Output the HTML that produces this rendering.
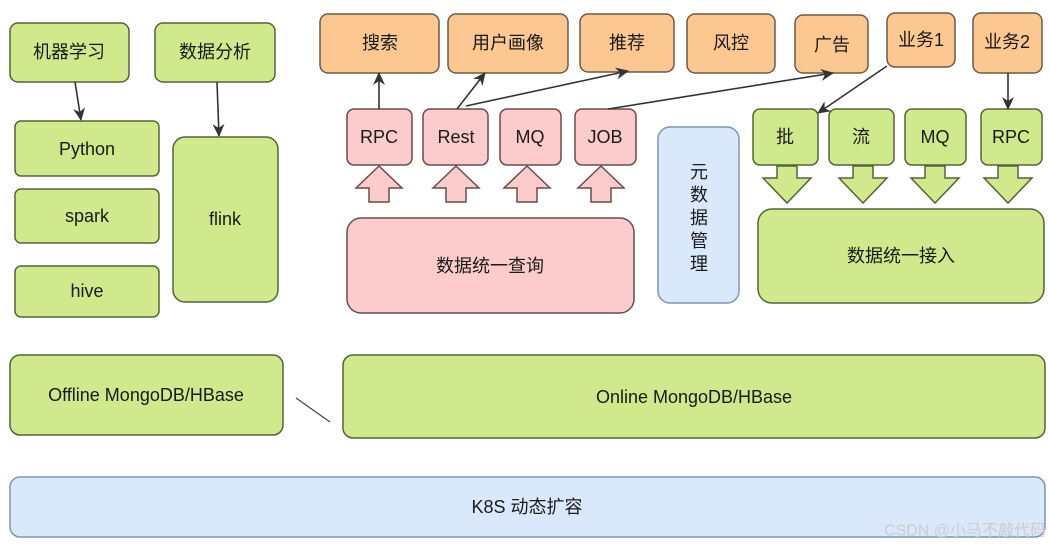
<!DOCTYPE html>
<html><head><meta charset="utf-8"><style>
html,body{margin:0;padding:0;background:#fff;}
svg{display:block;}
text{font-family:"Liberation Sans","Noto Sans CJK SC",sans-serif;fill:#1a1a1a;text-anchor:middle;dominant-baseline:central;}
.g{fill:#d0e98c;stroke:#55623a;stroke-width:1.5;}
.o{fill:#fcc791;stroke:#6b5a48;stroke-width:1.5;}
.p{fill:#fccccc;stroke:#6b4c4c;stroke-width:1.5;}
.b{fill:#dae8fc;stroke:#7c95b8;stroke-width:1.5;}
.l{stroke:#333;stroke-width:1.6;fill:none;}
</style></head><body>
<svg width="1050" height="549" viewBox="0 0 1050 549" xmlns="http://www.w3.org/2000/svg">
<defs><marker id="a" markerWidth="14" markerHeight="14" refX="12" refY="6" orient="auto" markerUnits="userSpaceOnUse"><path d="M0,0 L13,6 L0,12 L4,6 z" fill="#333"/></marker></defs>
<rect class="g" x="10" y="23" width="119" height="59" rx="8"/><text x="69" y="52" font-size="18">机器学习</text>
<rect class="g" x="155" y="23" width="120" height="59" rx="8"/><text x="215" y="52" font-size="18">数据分析</text>
<rect class="g" x="15" y="121" width="144" height="55" rx="6"/><text x="87" y="149" font-size="18">Python</text>
<rect class="g" x="15" y="189" width="144" height="54" rx="6"/><text x="87" y="216" font-size="18">spark</text>
<rect class="g" x="15" y="266" width="144" height="51" rx="6"/><text x="87" y="291" font-size="18">hive</text>
<rect class="g" x="173" y="137" width="105" height="165" rx="12"/><text x="225" y="219" font-size="18">flink</text>
<line class="l" x1="75" y1="82" x2="81" y2="120" marker-end="url(#a)"/>
<line class="l" x1="217" y1="82" x2="219" y2="136" marker-end="url(#a)"/>
<rect class="o" x="320" y="14" width="119" height="59" rx="8"/><text x="380" y="43" font-size="18">搜索</text>
<rect class="o" x="448" y="14" width="120" height="59" rx="8"/><text x="508" y="43" font-size="18">用户画像</text>
<rect class="o" x="580" y="14" width="94" height="58" rx="8"/><text x="627" y="43" font-size="18">推荐</text>
<rect class="o" x="687" y="14" width="88" height="59" rx="8"/><text x="731" y="43" font-size="18">风控</text>
<rect class="o" x="795" y="15" width="73" height="58" rx="8"/><text x="832" y="45" font-size="18">广告</text>
<rect class="o" x="887" y="13" width="68" height="54" rx="8"/><text x="921" y="40" font-size="18">业务1</text>
<rect class="o" x="973" y="13" width="69" height="60" rx="8"/><text x="1007" y="42" font-size="18">业务2</text>
<rect class="p" x="347" y="109" width="65" height="56" rx="7"/><text x="379" y="137" font-size="18">RPC</text>
<rect class="p" x="423" y="109" width="65" height="56" rx="7"/><text x="456" y="137" font-size="18">Rest</text>
<rect class="p" x="500" y="109" width="61" height="56" rx="7"/><text x="530" y="137" font-size="18">MQ</text>
<rect class="p" x="575" y="109" width="61" height="56" rx="7"/><text x="605" y="137" font-size="18">JOB</text>
<g class="p" stroke-width="1.2">
<path d="M379,166 L402,188 L389,188 L389,202 L369,202 L369,188 L356,188 z"/>
<path d="M456,166 L479,188 L466,188 L466,202 L446,202 L446,188 L433,188 z"/>
<path d="M527,166 L550,188 L537,188 L537,202 L517,202 L517,188 L504,188 z"/>
<path d="M601,166 L624,188 L611,188 L611,202 L591,202 L591,188 L578,188 z"/>
</g>
<rect class="p" x="347" y="218" width="287" height="95" rx="14"/><text x="490" y="266" font-size="18">数据统一查询</text>
<rect class="b" x="658" y="127" width="81" height="176" rx="12"/>
<text x="699" y="172" font-size="18">元</text><text x="699" y="195" font-size="18">数</text><text x="699" y="218" font-size="18">据</text><text x="699" y="241" font-size="18">管</text><text x="699" y="264" font-size="18">理</text>
<rect class="g" x="753" y="109" width="65" height="56" rx="7"/><text x="785" y="137" font-size="18">批</text>
<rect class="g" x="829" y="109" width="65" height="56" rx="7"/><text x="861" y="137" font-size="18">流</text>
<rect class="g" x="905" y="109" width="61" height="56" rx="7"/><text x="935" y="137" font-size="18">MQ</text>
<rect class="g" x="981" y="109" width="61" height="56" rx="7"/><text x="1011" y="137" font-size="18">RPC</text>
<g class="g" stroke-width="1.2">
<path d="M777,166 L797,166 L797,178 L811,178 L787,203 L763,178 L777,178 z"/>
<path d="M853,166 L873,166 L873,178 L887,178 L863,203 L839,178 L853,178 z"/>
<path d="M925,166 L945,166 L945,178 L959,178 L935,203 L911,178 L925,178 z"/>
<path d="M998,166 L1018,166 L1018,178 L1032,178 L1008,203 L984,178 L998,178 z"/>
</g>
<rect class="g" x="758" y="209" width="286" height="94" rx="14"/><text x="901" y="256" font-size="18">数据统一接入</text>
<line class="l" x1="379" y1="109" x2="379" y2="73" marker-end="url(#a)"/>
<line class="l" x1="457" y1="109" x2="485" y2="73" marker-end="url(#a)"/>
<line class="l" x1="466" y1="106" x2="628" y2="71" marker-end="url(#a)"/>
<line class="l" x1="608" y1="109" x2="833" y2="73" marker-end="url(#a)"/>
<line class="l" x1="887" y1="66" x2="818" y2="113" marker-end="url(#a)"/>
<line class="l" x1="1008" y1="73" x2="1008" y2="109" marker-end="url(#a)"/>
<rect class="g" x="10" y="355" width="273" height="80" rx="10"/><text x="146" y="395" font-size="18">Offline MongoDB/HBase</text>
<rect class="g" x="343" y="355" width="702" height="83" rx="10"/><text x="694" y="397" font-size="18">Online MongoDB/HBase</text>
<path d="M296,398 L330,422" stroke="#444" stroke-width="1.2"/>
<rect class="b" x="10" y="477" width="1035" height="60" rx="10"/><text x="527" y="507" font-size="18">K8S 动态扩容</text>
<text x="1046" y="531" font-size="16" style="fill:#ccc;text-anchor:end">CSDN @小马不敲代码</text>
</svg>
</body></html>
